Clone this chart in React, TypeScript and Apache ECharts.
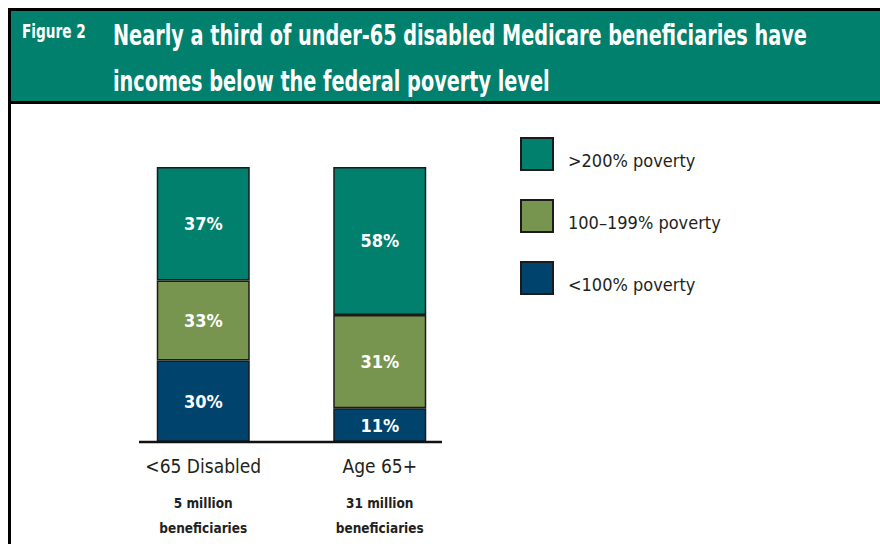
import React, { useEffect, useRef } from "react";
import * as echarts from "echarts";

// ---- data ----
const categories = ["<65 Disabled", "Age 65+"];
const populations = ["5 million", "31 million"];
const populationUnit = "beneficiaries";

const seriesNames = ["<100% poverty", "100–199% poverty", ">200% poverty"];
const legendOrder = [">200% poverty", "100–199% poverty", "<100% poverty"];

// published shares (labels)
const below100Pct = [30, 11];
const mid100to199Pct = [33, 31];
const above200Pct = [37, 58];

// segment heights as drawn in the picture (share of bar height, %)
const below100Drawn = [29.6, 12.3];
const mid100to199Drawn = [29.1, 33.9];
const above200Drawn = [41.3, 53.8];

const titleTag = "Figure 2";
const titleText =
  "Nearly a third of under-65 disabled Medicare beneficiaries have\nincomes below the federal poverty level";

const COLORS = ["#00436c", "#789550", "#00806d"];
const FONT = "'Liberation Sans Narrow', 'DejaVu Sans Condensed', 'Roboto Condensed', 'Liberation Sans', sans-serif";

export default function App() {
  const ref = useRef<HTMLDivElement>(null);

  useEffect(() => {
    if (!ref.current) return;
    const chart = echarts.init(ref.current, null, { renderer: "svg" });

    const drawn = [below100Drawn, mid100to199Drawn, above200Drawn];
    const pcts = [below100Pct, mid100to199Pct, above200Pct];

    const series = seriesNames.map((name, i) => ({
      name,
      type: "bar",
      stack: "total",
      barWidth: 93,
      data: drawn[i],
      itemStyle: { color: COLORS[i], borderColor: "#1b1b1b", borderWidth: 1.5 },
      label: {
        show: true,
        position: "inside",
        formatter: (p: any) => pcts[i][p.dataIndex] + "%",
        color: "#ffffff",
        fontFamily: FONT,
        fontWeight: "bold",
        fontSize: 18,
      },
    }));

    chart.setOption({
      animation: false,
      backgroundColor: "#ffffff",
      grid: { left: 115, width: 353, top: 167, bottom: 102 },
      xAxis: {
        type: "category",
        data: categories,
        axisLine: { show: false },
        axisTick: { show: false },
        axisLabel: {
          margin: -1,
          interval: 0,
          formatter: (v: string, idx: number) =>
            `{a|${v}}\n{b|${populations[idx]}}\n{b|${populationUnit}}`,
          rich: {
            a: { fontFamily: FONT, fontSize: 19, color: "#231f20", lineHeight: 49, fontWeight: "normal" },
            b: { fontFamily: FONT, fontSize: 13.5, color: "#231f20", lineHeight: 25, fontWeight: "bold" },
          },
        },
      },
      yAxis: { type: "value", min: 0, max: 100, show: false },
      legend: {
        data: legendOrder,
        orient: "vertical",
        left: 520,
        top: 137,
        padding: 0,
        itemWidth: 32,
        itemHeight: 32,
        itemGap: 28,
        icon: "rect",
        selectedMode: false,
        formatter: (name: string) => "\n" + name,
        textStyle: {
          fontFamily: FONT,
          fontSize: 18,
          lineHeight: 13,
          color: "#231f20",
          padding: [0, 0, 0, 10],
        },
      },
      series,
      graphic: [
        {
          type: "rect",
          shape: { x: 9.5, y: 9.5, width: 880, height: 93 },
          style: { fill: "#00806d", stroke: "#000000", lineWidth: 3 },
          z: 10,
        },
        {
          type: "line",
          shape: { x1: 9.5, y1: 9.5, x2: 9.5, y2: 544 },
          style: { stroke: "#000000", lineWidth: 3 },
          z: 11,
        },
        {
          type: "line",
          shape: { x1: 139, y1: 442, x2: 442, y2: 442 },
          style: { stroke: "#111111", lineWidth: 2.5 },
          z: 11,
        },
        {
          type: "text",
          x: 22,
          y: 31,
          scaleX: 0.8,
          style: {
            text: titleTag,
            fill: "#ffffff",
            font: `bold 19px ${FONT}`,
            textVerticalAlign: "middle",
          },
          z: 12,
        },
        {
          type: "text",
          x: 113,
          y: 12,
          scaleX: 0.765,
          style: {
            text: titleText,
            fill: "#ffffff",
            font: `bold 28px ${FONT}`,
            lineHeight: 46,
          },
          z: 12,
        },
      ],
    });

    return () => chart.dispose();
  }, []);

  return (
    <div
      ref={ref}
      style={{ position: "fixed", left: 0, top: 0, width: 880, height: 544 }}
    />
  );
}
